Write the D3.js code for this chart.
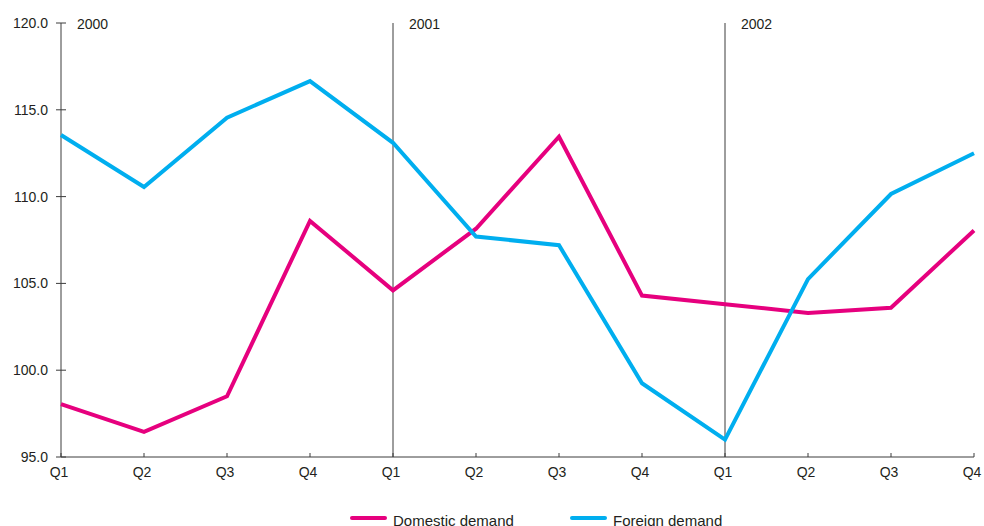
<!DOCTYPE html>
<html>
<head>
<meta charset="utf-8">
<script src="https://cdn.jsdelivr.net/npm/d3@7"></script>
<style>
  html, body { margin: 0; padding: 0; background: #fff; }
  svg { display: block; font-family: "Liberation Sans", Arial, Helvetica, sans-serif; }
</style>
</head>
<body>
<svg id="chart" width="984" height="526"></svg>
<script>
// Quarterly demand index, 2000–2002
const quarters = ["Q1", "Q2", "Q3", "Q4", "Q1", "Q2", "Q3", "Q4", "Q1", "Q2", "Q3", "Q4"];
const years = ["2000", "2001", "2002"];
const domestic = [98.05, 96.45, 98.5, 108.6, 104.6, 108.15, 113.45, 104.3, 103.8, 103.3, 103.6, 108.05];
const foreign = [113.55, 110.55, 114.55, 116.65, 113.1, 107.7, 107.2, 99.25, 96.0, 105.25, 110.15, 112.5];
const yTicks = [95, 100, 105, 110, 115, 120];
const seriesNames = ["Domestic demand", "Foreign demand"];
const seriesColors = ["#e6007e", "#00aeef"];

const svg = d3.select("#chart");
const plot = { left: 61, right: 974, top: 23, bottom: 457 };

const x = d3.scalePoint().domain(d3.range(quarters.length)).range([plot.left, plot.right]);
const y = d3.scaleLinear().domain([95, 120]).range([plot.bottom, plot.top]);

const textColor = "#231f20";
const axisColor = "#3c3c3c";
const labelSize = "14px";

// Y axis
const yAxis = svg.append("g")
  .attr("transform", `translate(${plot.left},0)`)
  .call(d3.axisLeft(y).tickValues(yTicks).tickFormat(d3.format(".1f")).tickSize(0).tickPadding(13));
yAxis.select(".domain").remove();
yAxis.selectAll("text").attr("fill", textColor).style("font-size", labelSize)
  .style("font-family", "'Liberation Sans', Arial, sans-serif");
svg.append("line").attr("x1", plot.left).attr("x2", plot.left).attr("y1", plot.top).attr("y2", plot.bottom)
  .attr("stroke", axisColor).attr("stroke-width", 1);
svg.append("g").selectAll("line").data(yTicks).join("line")
  .attr("x1", plot.left - 5).attr("x2", plot.left + 5)
  .attr("y1", d => y(d)).attr("y2", d => y(d))
  .attr("stroke", axisColor).attr("stroke-width", 1);

// X axis
svg.append("line").attr("x1", plot.left).attr("x2", plot.right).attr("y1", plot.bottom).attr("y2", plot.bottom)
  .attr("stroke", axisColor).attr("stroke-width", 1);
svg.append("g").selectAll("line").data(d3.range(quarters.length)).join("line")
  .attr("x1", d => x(d)).attr("x2", d => x(d))
  .attr("y1", plot.bottom - 4).attr("y2", plot.bottom)
  .attr("stroke", axisColor).attr("stroke-width", 1);
svg.append("g").selectAll("text").data(quarters).join("text")
  .attr("x", (d, i) => x(i) - 2).attr("y", plot.bottom + 20)
  .attr("text-anchor", "middle").attr("fill", textColor)
  .style("font-size", labelSize).text(d => d);

// Year separators and labels
years.forEach((yr, k) => {
  const xi = x(k * 4);
  if (k > 0) {
    svg.append("line").attr("x1", xi).attr("x2", xi).attr("y1", plot.top).attr("y2", plot.bottom)
      .attr("stroke", axisColor).attr("stroke-width", 1);
  }
  svg.append("text").attr("x", xi + 16).attr("y", plot.top + 6)
    .attr("fill", textColor).style("font-size", labelSize).text(yr);
});

// Series lines
const line = d3.line().x((d, i) => x(i)).y(d => y(d));
[domestic, foreign].forEach((vals, s) => {
  svg.append("path").datum(vals)
    .attr("d", line)
    .attr("fill", "none")
    .attr("stroke", seriesColors[s])
    .attr("stroke-width", 4)
    .attr("stroke-linejoin", "miter");
});

// Legend
const legendX = [352, 572];
seriesNames.forEach((name, s) => {
  const g = svg.append("g").attr("transform", `translate(${legendX[s]},518)`);
  g.append("line").attr("x1", 0).attr("x2", 33).attr("y1", 0).attr("y2", 0)
    .attr("stroke", seriesColors[s]).attr("stroke-width", 4).attr("stroke-linecap", "round");
  g.append("text").attr("x", 41).attr("y", 8).attr("fill", textColor)
    .style("font-size", "15px").text(name);
});
</script>
</body>
</html>
